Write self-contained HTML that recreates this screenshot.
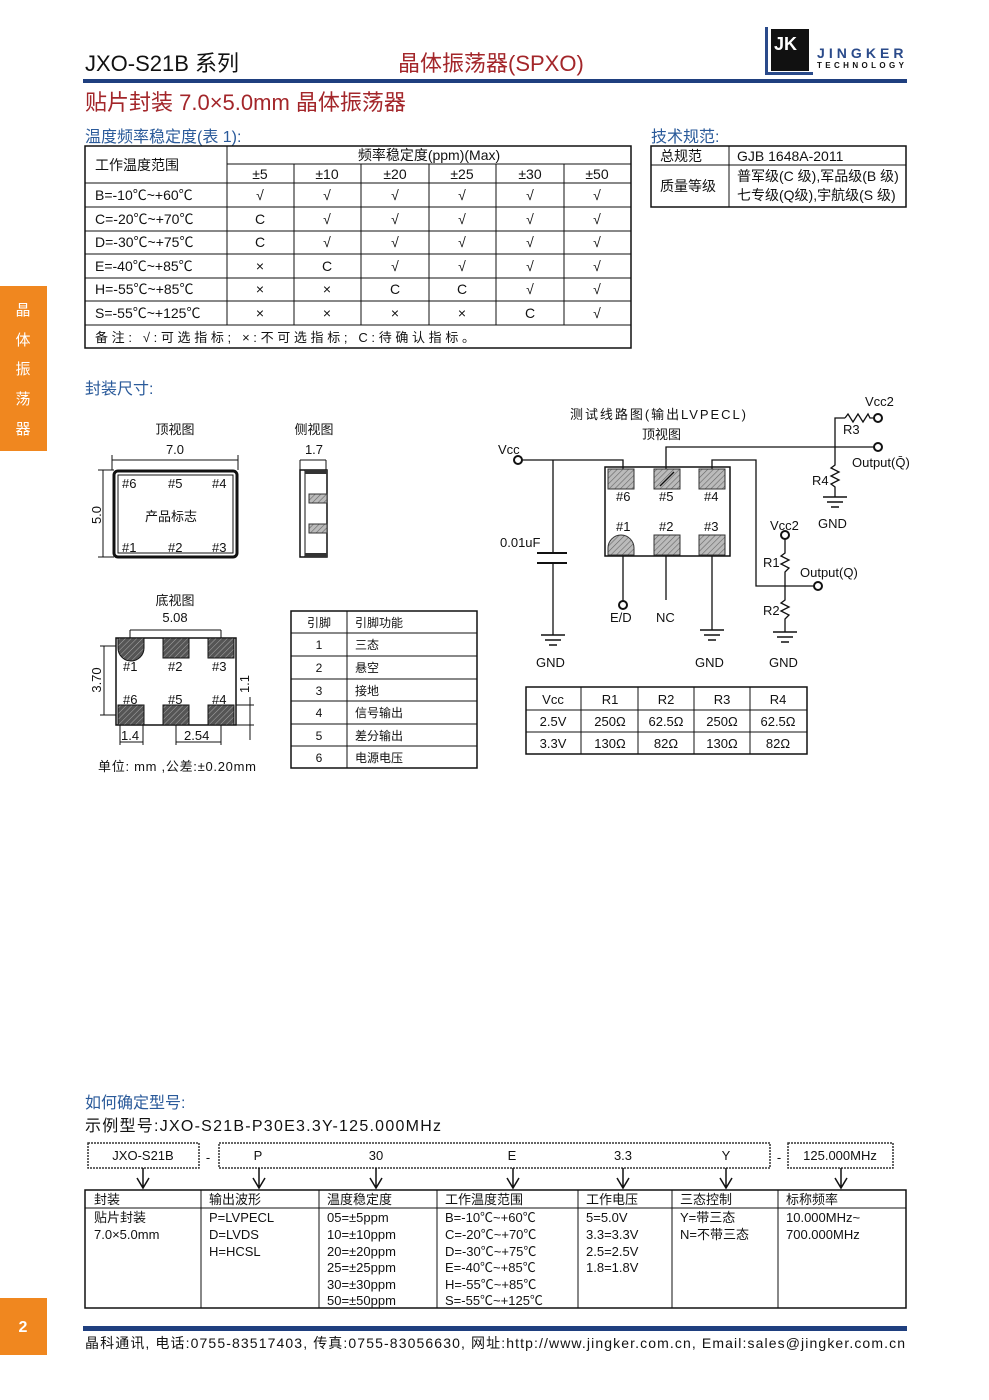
<!DOCTYPE html><html><head><meta charset="utf-8"><style>
body{margin:0;background:#fff}svg{display:block}
text{font-family:"Liberation Sans","Noto Sans CJK SC",sans-serif;fill:#111}
</style></head><body>
<svg width="989" height="1400" viewBox="0 0 989 1400" xmlns="http://www.w3.org/2000/svg">
<defs>
<pattern id="h" width="4" height="4" patternUnits="userSpaceOnUse" patternTransform="rotate(45)"><rect width="4" height="4" fill="#bbb"/><line x1="0" y1="0" x2="0" y2="4" stroke="#666" stroke-width="1.2"/></pattern>
<pattern id="hd" width="4" height="4" patternUnits="userSpaceOnUse" patternTransform="rotate(45)"><rect width="4" height="4" fill="#555"/><line x1="0" y1="0" x2="0" y2="4" stroke="#aaa" stroke-width="1"/></pattern>
</defs>
<!-- header -->
<text x="85" y="71" font-size="22">JXO-S21B 系列</text>
<text x="398" y="71" font-size="22" style="fill:#a3262a">晶体振荡器(SPXO)</text>
<rect x="765" y="27" width="3" height="48" fill="#2a4a8a"/><rect x="765" y="72" width="48" height="3" fill="#2a4a8a"/>
<rect x="771" y="29" width="38" height="42" fill="#111"/>
<text x="774" y="50" font-size="18" font-weight="bold" style="fill:#fff">JK</text>
<text x="817" y="58" font-size="14" font-weight="bold" style="fill:#2a4a8a" letter-spacing="1.5" textLength="88">JINGKER</text>
<text x="817" y="68" font-size="8" font-weight="bold" letter-spacing="1" textLength="88">TECHNOLOGY</text>
<rect x="83" y="79" width="824" height="4" fill="#1f3f7f"/>
<text x="85" y="110" font-size="22" style="fill:#a3262a">贴片封装 7.0×5.0mm 晶体振荡器</text>
<text x="85" y="142" font-size="16" style="fill:#2a5a9a">温度频率稳定度(表 1):</text>
<text x="651" y="142" font-size="16" style="fill:#2a5a9a">技术规范:</text>
<!-- table 1 -->
<g stroke="#111" fill="none" stroke-width="1">
<rect x="85" y="146" width="546" height="202" stroke-width="1.5"/>
<line x1="227" y1="164" x2="631" y2="164"/>
<line x1="85" y1="183" x2="631" y2="183"/>
<line x1="85" y1="207" x2="631" y2="207"/><line x1="85" y1="231" x2="631" y2="231"/>
<line x1="85" y1="254" x2="631" y2="254"/><line x1="85" y1="278" x2="631" y2="278"/>
<line x1="85" y1="301" x2="631" y2="301"/><line x1="85" y1="325" x2="631" y2="325"/>
<line x1="227" y1="146" x2="227" y2="325"/>
<line x1="294" y1="164" x2="294" y2="325"/><line x1="361" y1="164" x2="361" y2="325"/>
<line x1="429" y1="164" x2="429" y2="325"/><line x1="496" y1="164" x2="496" y2="325"/>
<line x1="564" y1="164" x2="564" y2="325"/>
</g>
<g font-size="14">
<text x="95" y="170">工作温度范围</text>
<text x="429" y="160" text-anchor="middle">频率稳定度(ppm)(Max)</text>
<g text-anchor="middle">
<text x="260" y="179">±5</text><text x="327" y="179">±10</text><text x="395" y="179">±20</text><text x="462" y="179">±25</text><text x="530" y="179">±30</text><text x="597" y="179">±50</text>
<text x="260" y="200">√</text><text x="327" y="200">√</text><text x="395" y="200">√</text><text x="462" y="200">√</text><text x="530" y="200">√</text><text x="597" y="200">√</text>
<text x="260" y="224">C</text><text x="327" y="224">√</text><text x="395" y="224">√</text><text x="462" y="224">√</text><text x="530" y="224">√</text><text x="597" y="224">√</text>
<text x="260" y="247">C</text><text x="327" y="247">√</text><text x="395" y="247">√</text><text x="462" y="247">√</text><text x="530" y="247">√</text><text x="597" y="247">√</text>
<text x="260" y="271">×</text><text x="327" y="271">C</text><text x="395" y="271">√</text><text x="462" y="271">√</text><text x="530" y="271">√</text><text x="597" y="271">√</text>
<text x="260" y="294">×</text><text x="327" y="294">×</text><text x="395" y="294">C</text><text x="462" y="294">C</text><text x="530" y="294">√</text><text x="597" y="294">√</text>
<text x="260" y="318">×</text><text x="327" y="318">×</text><text x="395" y="318">×</text><text x="462" y="318">×</text><text x="530" y="318">C</text><text x="597" y="318">√</text>
</g>
<text x="95" y="200">B=-10℃~+60℃</text><text x="95" y="224">C=-20℃~+70℃</text><text x="95" y="247">D=-30℃~+75℃</text>
<text x="95" y="271">E=-40℃~+85℃</text><text x="95" y="294">H=-55℃~+85℃</text><text x="95" y="318">S=-55℃~+125℃</text>
<text x="95" y="342" font-size="13" textLength="380">备注: √:可选指标; ×:不可选指标; C:待确认指标。</text>
</g>
<!-- spec table -->
<g stroke="#111" fill="none"><rect x="651" y="146" width="255" height="61" stroke-width="1.5"/><line x1="651" y1="165" x2="906" y2="165"/><line x1="729" y1="146" x2="729" y2="207"/></g>
<g font-size="14"><text x="660" y="161">总规范</text><text x="737" y="161">GJB 1648A-2011</text><text x="660" y="191">质量等级</text>
<text x="737" y="181">普军级(C 级),军品级(B 级)</text><text x="737" y="200">七专级(Q级),宇航级(S 级)</text></g>
<!-- side tabs -->
<rect x="0" y="286" width="47" height="165" fill="#f0871f"/>
<g font-size="15" text-anchor="middle"><text x="23" y="315" style="fill:#fff">晶</text><text x="23" y="345" style="fill:#fff">体</text><text x="23" y="374" style="fill:#fff">振</text><text x="23" y="404" style="fill:#fff">荡</text><text x="23" y="434" style="fill:#fff">器</text></g>
<rect x="0" y="1298" width="47" height="57" fill="#f0871f"/>
<text x="23" y="1332" font-size="16" font-weight="bold" text-anchor="middle" style="fill:#fff">2</text>
<text x="85" y="394" font-size="16" style="fill:#2a5a9a">封装尺寸:</text>
<!-- top view -->
<g font-size="13" text-anchor="middle"><text x="175" y="434">顶视图</text><text x="175" y="454">7.0</text><text x="314" y="434">侧视图</text><text x="314" y="454">1.7</text><text x="175" y="605">底视图</text><text x="175" y="622">5.08</text></g>
<g stroke="#111" fill="none">
<line x1="112" y1="460" x2="238" y2="460"/><line x1="112" y1="455" x2="112" y2="470"/><line x1="238" y1="455" x2="238" y2="470"/>
<line x1="103" y1="470" x2="103" y2="557"/><line x1="98" y1="470" x2="114" y2="470"/><line x1="98" y1="557" x2="114" y2="557"/>
<rect x="114" y="471" width="123" height="86" rx="4" stroke-width="3"/>
<rect x="118" y="475" width="115" height="78" stroke-width="1"/>
<line x1="300" y1="460" x2="300" y2="470"/><line x1="326" y1="460" x2="326" y2="470"/><line x1="300" y1="460" x2="326" y2="460"/>
<rect x="300" y="470" width="27" height="87" stroke-width="1.5"/>
<line x1="305" y1="470" x2="305" y2="557"/>
</g>
<rect x="305" y="470" width="22" height="4" fill="#333"/><rect x="305" y="553" width="22" height="4" fill="#333"/>
<rect x="309" y="494" width="18" height="9" fill="url(#h)" stroke="#333"/><rect x="309" y="524" width="18" height="9" fill="url(#h)" stroke="#333"/>
<g font-size="13"><text x="122" y="488">#6</text><text x="168" y="488">#5</text><text x="212" y="488">#4</text>
<text x="122" y="552">#1</text><text x="168" y="552">#2</text><text x="212" y="552">#3</text>
<text x="145" y="521">产品标志</text>
<text x="101" y="515" transform="rotate(-90 101 515)" text-anchor="middle">5.0</text></g>
<!-- bottom view -->
<g stroke="#111" fill="none">
<line x1="130" y1="630" x2="221" y2="630"/><line x1="130" y1="630" x2="130" y2="645"/><line x1="221" y1="630" x2="221" y2="645"/>
<rect x="116" y="638" width="120" height="87" stroke-width="1.5"/>
<line x1="104" y1="646" x2="104" y2="715"/><line x1="100" y1="646" x2="116" y2="646"/><line x1="100" y1="715" x2="116" y2="715"/>
<line x1="250" y1="697" x2="250" y2="740"/><line x1="236" y1="705" x2="254" y2="705"/><line x1="236" y1="725" x2="254" y2="725"/>
<line x1="120" y1="725" x2="120" y2="745"/><line x1="143" y1="725" x2="143" y2="745"/><line x1="120" y1="742" x2="143" y2="742"/>
<line x1="176" y1="725" x2="176" y2="745"/><line x1="221" y1="725" x2="221" y2="745"/><line x1="176" y1="742" x2="221" y2="742"/>
</g>
<path d="M118 638 H144 V648 A13 13 0 0 1 118 648 Z" fill="url(#hd)" stroke="#111"/>
<rect x="163" y="638" width="26" height="20" fill="url(#hd)" stroke="#111"/><rect x="208" y="638" width="26" height="20" fill="url(#hd)" stroke="#111"/>
<rect x="118" y="705" width="26" height="20" fill="url(#hd)" stroke="#111"/><rect x="163" y="705" width="26" height="20" fill="url(#hd)" stroke="#111"/><rect x="208" y="705" width="26" height="20" fill="url(#hd)" stroke="#111"/>
<g font-size="13"><text x="123" y="671">#1</text><text x="168" y="671">#2</text><text x="212" y="671">#3</text>
<text x="123" y="704">#6</text><text x="168" y="704">#5</text><text x="212" y="704">#4</text>
<text x="121" y="740">1.4</text><text x="184" y="740">2.54</text>
<text x="101" y="680" transform="rotate(-90 101 680)" text-anchor="middle">3.70</text>
<text x="249" y="684" transform="rotate(-90 249 684)" text-anchor="middle">1.1</text>
<text x="98" y="771" textLength="158">单位: mm ,公差:±0.20mm</text></g>
<!-- pin table -->
<g stroke="#111" fill="none"><rect x="291" y="611" width="186" height="157" stroke-width="1.5"/>
<line x1="291" y1="633" x2="477" y2="633"/><line x1="291" y1="656" x2="477" y2="656"/><line x1="291" y1="679" x2="477" y2="679"/><line x1="291" y1="701" x2="477" y2="701"/><line x1="291" y1="724" x2="477" y2="724"/><line x1="291" y1="746" x2="477" y2="746"/><line x1="347" y1="611" x2="347" y2="768"/></g>
<g font-size="12"><g text-anchor="middle"><text x="319" y="627">引脚</text><text x="319" y="649">1</text><text x="319" y="672">2</text><text x="319" y="695">3</text><text x="319" y="717">4</text><text x="319" y="740">5</text><text x="319" y="762">6</text></g>
<text x="355" y="627">引脚功能</text><text x="355" y="649">三态</text><text x="355" y="672">悬空</text><text x="355" y="695">接地</text><text x="355" y="717">信号输出</text><text x="355" y="740">差分输出</text><text x="355" y="762">电源电压</text></g>
<!-- circuit -->
<g font-size="13"><text x="570" y="419" textLength="176">测试线路图(输出LVPECL)</text><text x="642" y="439">顶视图</text>
<text x="498" y="454">Vcc</text><text x="500" y="547">0.01uF</text><text x="536" y="667">GND</text><text x="695" y="667">GND</text><text x="769" y="667">GND</text>
<text x="610" y="622">E/D</text><text x="656" y="622">NC</text>
<text x="865" y="406">Vcc2</text><text x="843" y="434">R3</text><text x="852" y="467">Output(Q̄)</text><text x="812" y="485">R4</text><text x="818" y="528">GND</text>
<text x="770" y="530">Vcc2</text><text x="763" y="567">R1</text><text x="800" y="577">Output(Q)</text><text x="763" y="615">R2</text>
<text x="616" y="501">#6</text><text x="659" y="501">#5</text><text x="704" y="501">#4</text>
<text x="616" y="531">#1</text><text x="659" y="531">#2</text><text x="704" y="531">#3</text></g>
<g stroke="#111" fill="none" stroke-width="1.3">
<rect x="605" y="467" width="125" height="89" stroke-width="1.5"/>
<polyline points="522,460 623,460 623,478"/>
<line x1="553" y1="460" x2="553" y2="553"/><line x1="537" y1="553" x2="567" y2="553" stroke-width="2"/><line x1="537" y1="563" x2="567" y2="563" stroke-width="2"/><line x1="553" y1="563" x2="553" y2="635"/>
<polyline points="660,486 666,478 666,447 874,447"/>
<polyline points="835,447 835,418 845,418"/><polyline points="845,418 848,414 853,422 858,414 863,422 868,414 870,418 874,418"/>
<polyline points="835,447 835,465 831,468 839,472 831,476 839,480 831,484 835,487 835,497"/>
<polyline points="712,478 712,460 756,460 756,586 814,586"/>
<polyline points="785,539 785,553 781,556 789,560 781,564 789,568 785,572 785,600 781,603 789,607 781,611 789,615 785,619 785,632"/>
<line x1="623" y1="545" x2="623" y2="601"/><line x1="666" y1="545" x2="666" y2="600"/><line x1="712" y1="545" x2="712" y2="630"/>
<circle cx="518" cy="460" r="4" stroke-width="2"/><circle cx="878" cy="418" r="4" stroke-width="2"/><circle cx="878" cy="447" r="4" stroke-width="2"/>
<circle cx="785" cy="535" r="4" stroke-width="2"/><circle cx="818" cy="586" r="4" stroke-width="2"/><circle cx="623" cy="605" r="4" stroke-width="2"/>
<g stroke-width="1.5"><line x1="541" y1="635" x2="565" y2="635"/><line x1="545" y1="640" x2="561" y2="640"/><line x1="549" y1="645" x2="557" y2="645"/>
<line x1="700" y1="630" x2="724" y2="630"/><line x1="704" y1="635" x2="720" y2="635"/><line x1="708" y1="640" x2="716" y2="640"/>
<line x1="773" y1="632" x2="797" y2="632"/><line x1="777" y1="637" x2="793" y2="637"/><line x1="781" y1="642" x2="789" y2="642"/>
<line x1="823" y1="497" x2="847" y2="497"/><line x1="827" y1="502" x2="843" y2="502"/><line x1="831" y1="507" x2="839" y2="507"/></g>
</g>
<g stroke="#333"><rect x="608" y="469" width="26" height="20" fill="url(#h)"/><rect x="654" y="469" width="26" height="20" fill="url(#h)"/><rect x="699" y="469" width="26" height="20" fill="url(#h)"/>
<path d="M608 555 V548 A13 13 0 0 1 634 548 V555 Z" fill="url(#h)"/><rect x="654" y="535" width="26" height="20" fill="url(#h)"/><rect x="699" y="535" width="26" height="20" fill="url(#h)"/></g>
<line x1="660" y1="486" x2="674" y2="472" stroke="#111" stroke-width="1.3"/>
<!-- vcc table -->
<g stroke="#111" fill="none"><rect x="526" y="687" width="281" height="67" stroke-width="1.5"/><line x1="526" y1="710" x2="807" y2="710"/><line x1="526" y1="732" x2="807" y2="732"/>
<line x1="581" y1="687" x2="581" y2="754"/><line x1="638" y1="687" x2="638" y2="754"/><line x1="694" y1="687" x2="694" y2="754"/><line x1="750" y1="687" x2="750" y2="754"/></g>
<g font-size="13" text-anchor="middle"><text x="553" y="704">Vcc</text><text x="610" y="704">R1</text><text x="666" y="704">R2</text><text x="722" y="704">R3</text><text x="778" y="704">R4</text>
<text x="553" y="726">2.5V</text><text x="610" y="726">250Ω</text><text x="666" y="726">62.5Ω</text><text x="722" y="726">250Ω</text><text x="778" y="726">62.5Ω</text>
<text x="553" y="748">3.3V</text><text x="610" y="748">130Ω</text><text x="666" y="748">82Ω</text><text x="722" y="748">130Ω</text><text x="778" y="748">82Ω</text></g>
<!-- part number -->
<text x="85" y="1108" font-size="16" style="fill:#2a5a9a">如何确定型号:</text>
<text x="85" y="1131" font-size="16" textLength="356">示例型号:JXO-S21B-P30E3.3Y-125.000MHz</text>
<g stroke="#333" fill="none" stroke-dasharray="2,1" stroke-width="1.5"><rect x="88" y="1143" width="111" height="25"/><rect x="219" y="1143" width="551" height="25"/><rect x="788" y="1143" width="105" height="25"/></g>
<g font-size="13" text-anchor="middle"><text x="143" y="1160">JXO-S21B</text><text x="208" y="1162">-</text><text x="258" y="1160">P</text><text x="376" y="1160">30</text><text x="512" y="1160">E</text><text x="623" y="1160">3.3</text><text x="726" y="1160">Y</text><text x="779" y="1162">-</text><text x="840" y="1160">125.000MHz</text></g>
<g stroke="#111" stroke-width="1.5" fill="none">
<path d="M143 1168V1188M137 1178L143 1188L149 1178"/><path d="M259 1168V1188M253 1178L259 1188L265 1178"/><path d="M376 1168V1188M370 1178L376 1188L382 1178"/>
<path d="M513 1168V1188M507 1178L513 1188L519 1178"/><path d="M623 1168V1188M617 1178L623 1188L629 1178"/><path d="M726 1168V1188M720 1178L726 1188L732 1178"/><path d="M841 1168V1188M835 1178L841 1188L847 1178"/></g>
<g stroke="#111" fill="none"><rect x="85" y="1190" width="821" height="118" stroke-width="1.5"/><line x1="85" y1="1208" x2="906" y2="1208"/>
<line x1="201" y1="1190" x2="201" y2="1308"/><line x1="319" y1="1190" x2="319" y2="1308"/><line x1="437" y1="1190" x2="437" y2="1308"/><line x1="578" y1="1190" x2="578" y2="1308"/><line x1="672" y1="1190" x2="672" y2="1308"/><line x1="778" y1="1190" x2="778" y2="1308"/></g>
<g font-size="13">
<text x="94" y="1204">封装</text><text x="209" y="1204">输出波形</text><text x="327" y="1204">温度稳定度</text><text x="445" y="1204">工作温度范围</text><text x="586" y="1204">工作电压</text><text x="680" y="1204">三态控制</text><text x="786" y="1204">标称频率</text>
<text x="94" y="1222">贴片封装</text><text x="94" y="1239">7.0×5.0mm</text>
<text x="209" y="1222">P=LVPECL</text><text x="209" y="1239">D=LVDS</text><text x="209" y="1256">H=HCSL</text>
<text x="327" y="1222">05=±5ppm</text><text x="327" y="1239">10=±10ppm</text><text x="327" y="1256">20=±20ppm</text><text x="327" y="1272">25=±25ppm</text><text x="327" y="1289">30=±30ppm</text><text x="327" y="1305">50=±50ppm</text>
<text x="445" y="1222">B=-10℃~+60℃</text><text x="445" y="1239">C=-20℃~+70℃</text><text x="445" y="1256">D=-30℃~+75℃</text><text x="445" y="1272">E=-40℃~+85℃</text><text x="445" y="1289">H=-55℃~+85℃</text><text x="445" y="1305">S=-55℃~+125℃</text>
<text x="586" y="1222">5=5.0V</text><text x="586" y="1239">3.3=3.3V</text><text x="586" y="1256">2.5=2.5V</text><text x="586" y="1272">1.8=1.8V</text>
<text x="680" y="1222">Y=带三态</text><text x="680" y="1239">N=不带三态</text>
<text x="786" y="1222">10.000MHz~</text><text x="786" y="1239">700.000MHz</text></g>
<rect x="83" y="1326" width="824" height="5" fill="#1f3f7f"/>
<text x="85" y="1348" font-size="14" textLength="820">晶科通讯, 电话:0755-83517403, 传真:0755-83056630, 网址:http://www.jingker.com.cn, Email:sales@jingker.com.cn</text>
</svg>
</body></html>
